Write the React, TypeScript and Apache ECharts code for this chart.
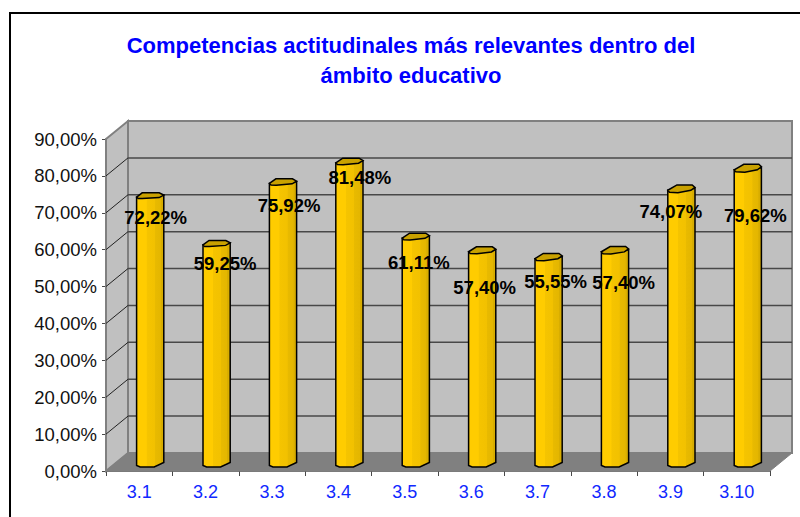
import React, { useEffect, useRef } from "react";
import * as echarts from "echarts";

const categories = ["3.1", "3.2", "3.3", "3.4", "3.5", "3.6", "3.7", "3.8", "3.9", "3.10"];
const values = [72.22, 59.25, 75.92, 81.48, 61.11, 57.4, 55.55, 57.4, 74.07, 79.62];
const yTicks = [0, 10, 20, 30, 40, 50, 60, 70, 80, 90];
const titleLines = "Competencias actitudinales más relevantes dentro del\námbito educativo";
// hand placement of the data labels relative to each column's top
const labelOffsets = [
  [16.5, 12.5], [19.5, 10.6], [17, 14.5], [21.5, 7.5], [14, 17],
  [13.5, 28.5], [18, 15.5], [19.7, 23.5], [0.5, 14], [18.5, 38],
];

const FONT = "'Liberation Sans', Arial, sans-serif";
const DX = 22;
const DY = 18;
const wallFill = "#c0c0c0";
const gridDark = "#484848";

const fmt = (v: number) => v.toFixed(2).replace(".", ",") + "%";
const lerp = (a: number, b: number, t: number) => a + (b - a) * t;

function renderWalls(params: any, api: any) {
  const r = params.coordSys;
  const v = api.value(0);
  const y = api.coord([0, v])[1];
  const left = r.x;
  const right = r.x + r.width;
  const children: any[] = [];
  if (params.dataIndex === 0) {
    const top = r.y;
    const bottom = r.y + r.height;
    children.push(
      { type: "polygon", shape: { points: [[left + DX, top - DY], [right + DX, top - DY], [right + DX, bottom - DY], [left + DX, bottom - DY]] }, style: { fill: wallFill, stroke: "#808080", lineWidth: 2 } },
      { type: "polygon", shape: { points: [[left, top], [left + DX, top - DY], [left + DX, bottom - DY], [left, bottom]] }, style: { fill: wallFill, stroke: "#808080", lineWidth: 2 } },
      { type: "polygon", shape: { points: [[left, bottom], [right, bottom], [right + DX, bottom - DY], [left + DX, bottom - DY]] }, style: { fill: "#808080", stroke: "#808080", lineWidth: 1 } }
    );
  }
  if (v > 0 && v < 90) {
    children.push(
      { type: "line", shape: { x1: left, y1: y, x2: left + DX, y2: y - DY }, style: { stroke: "#222", lineWidth: 1 } },
      { type: "line", shape: { x1: left + DX, y1: y - DY, x2: right + DX, y2: y - DY }, style: { stroke: gridDark, lineWidth: 1.5 } }
    );
  }
  return { type: "group", children };
}

function renderBar(params: any, api: any) {
  const i = params.dataIndex;
  const [px, py] = api.coord([api.value(0), api.value(1)]);
  const y0 = api.coord([api.value(0), 0])[1];
  const cx = px + DX / 2;
  const top = py - DY / 2;
  const base = y0 - DY / 2;
  const t = i / (categories.length - 1);
  const W = 13.6;
  const cap = [
    [-W, 1.5],
    [lerp(-8, -4, t), lerp(-2.8, -4, t)],
    [lerp(9, 11, t), lerp(-2.8, -4, t)],
    [W, lerp(-0.5, -1.5, t)],
    [lerp(9, 9.5, t), lerp(2, 1.5, t)],
    [lerp(-8, -3, t), lerp(3, 4, t)],
    [lerp(-12, -12, t), lerp(3, 3.5, t)],
  ].map((p) => [cx + p[0], top + p[1]]);
  const body = [
    [cx - W, top + 1.5],
    [cx - W, base + 3.5],
    [cx - 10, base + 5],
    [cx + 4, base + 5],
    [cx + W, base + 0.5],
    [cx + W, top - 0.5],
  ];
  const fill = new echarts.graphic.LinearGradient(0, 0, 1, 0, [
    { offset: 0, color: "#ffcc00" },
    { offset: 0.36, color: "#ffcc00" },
    { offset: 0.38, color: "#f5c400" },
    { offset: 0.66, color: "#f2c100" },
    { offset: 0.68, color: "#e8ba00" },
    { offset: 0.88, color: "#e4b600" },
    { offset: 0.9, color: "#d8ad00" },
    { offset: 1, color: "#d8ad00" },
  ]);
  return {
    type: "group",
    children: [
      { type: "polygon", shape: { points: body }, style: { fill, stroke: "#000", lineWidth: 1.5 } },
      { type: "polygon", shape: { points: cap }, style: { fill: "#c9a100", stroke: "#000", lineWidth: 1.5 } },
    ],
  };
}

function renderLabel(params: any, api: any) {
  const i = params.dataIndex;
  const v = api.value(1);
  const [px, py] = api.coord([api.value(0), v]);
  return {
    type: "text",
    style: {
      x: px + labelOffsets[i][0],
      y: py + labelOffsets[i][1],
      text: fmt(v),
      fill: "#000",
      fontFamily: FONT,
      fontWeight: "bold",
      fontSize: 18.5,
      align: "center",
      verticalAlign: "middle",
    },
  };
}

export default function App() {
  const ref = useRef<HTMLDivElement>(null);
  useEffect(() => {
    const chart = echarts.init(ref.current!, undefined, { renderer: "svg" });
    chart.setOption({
      animation: false,
      backgroundColor: "#ffffff",
      title: {
        text: titleLines,
        left: 406,
        top: 25,
        textAlign: "center",
        textStyle: { color: "#0000ff", fontFamily: FONT, fontWeight: "bold", fontSize: 22, lineHeight: 30 },
      },
      grid: { left: 106, top: 139, width: 664, height: 332, containLabel: false },
      xAxis: {
        type: "category",
        data: categories,
        boundaryGap: true,
        axisLine: { lineStyle: { color: gridDark, width: 1.5 } },
        axisTick: { show: true, length: 5, lineStyle: { color: gridDark } },
        axisLabel: { color: "#1028ff", fontFamily: FONT, fontSize: 18, margin: 12, interval: 0 },
        splitLine: { show: false },
      },
      yAxis: {
        type: "value",
        min: 0,
        max: 90,
        interval: 10,
        axisLine: { show: true, lineStyle: { color: gridDark, width: 1.5 } },
        axisTick: { show: true, length: 4, lineStyle: { color: gridDark } },
        axisLabel: { color: "#111", fontFamily: FONT, fontSize: 18.5, margin: 9, formatter: (v: number) => fmt(v) },
        splitLine: { show: false },
      },
      graphic: [
        { type: "polyline", silent: true, shape: { points: [[10, 517], [10, 13], [800, 13]] }, style: { fill: "none", stroke: "#000", lineWidth: 2 } },
      ],
      series: [
        { type: "custom", z: 1, coordinateSystem: "cartesian2d", data: yTicks.map((v) => [v]), encode: { y: 0 }, renderItem: renderWalls, silent: true },
        { type: "custom", z: 3, coordinateSystem: "cartesian2d", data: values.map((v, i) => [i, v]), encode: { x: 0, y: 1 }, renderItem: renderBar, silent: true },
        { type: "custom", z: 5, coordinateSystem: "cartesian2d", data: values.map((v, i) => [i, v]), encode: { x: 0, y: 1 }, renderItem: renderLabel, silent: true },
      ],
    });
    return () => chart.dispose();
  }, []);
  return <div ref={ref} style={{ position: "absolute", left: 0, top: 0, width: 800, height: 517 }} />;
}
